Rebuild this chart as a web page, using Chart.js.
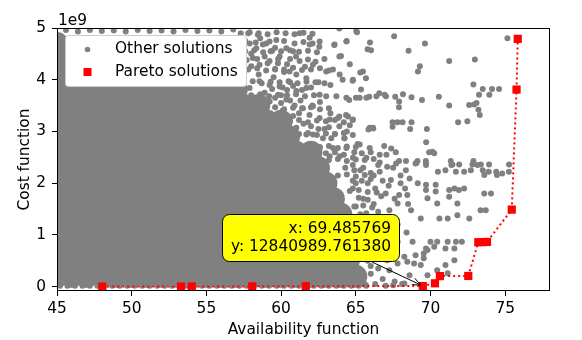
<!DOCTYPE html>
<html>
<head>
<meta charset="utf-8">
<script src="https://cdn.jsdelivr.net/npm/chart.js@4.4.1/dist/chart.umd.min.js"></script>
<style>
  html, body { margin: 0; padding: 0; background: #fff; }
</style>
</head>
<body>
<canvas id="chart" width="582" height="340"></canvas>
<script>
// tick values (y in units of 1e9)
const xTicks = [45, 50, 55, 60, 65, 70, 75];
const yTicks = [0, 1, 2, 3, 4, 5];

// Pareto front
const paretoX = [48.03, 53.30, 54.02, 58.07, 61.65, 69.485769, 70.30, 70.63, 72.53, 73.20, 73.50, 73.78, 75.44, 75.76, 75.84];
const paretoY = [2.1e6, 3.9e6, 4.6e6, 6.3e6, 9.8e6, 12840989.761380, 6.6e7, 2.05e8, 2.08e8, 8.6e8, 8.62e8, 8.65e8, 1.49e9, 3.81e9, 4.79e9];

// dense cloud of other solutions: rows (y, 1e9) with x positions
const coreY = [0.2, 0.5, 0.8, 1.1, 1.4, 1.7, 2.0, 2.3, 2.6, 2.9, 3.2, 3.5, 3.8, 4.1, 4.4, 4.7];
const coreX = [
  [45,46,47,48,49,50,51,52,53,54,55,56,57,58,59,60,61,62,63,64,65],
  [45.5,46.5,47.5,48.5,49.5,50.5,51.5,52.5,53.5,54.5,55.5,56.5,57.5,58.5,59.5,60.5,61.5,62.5,63.5,64.5],
  [45,46,47,48,49,50,51,52,53,54,55,56,57,58,59,60,61,62,63,64],
  [45.5,46.5,47.5,48.5,49.5,50.5,51.5,52.5,53.5,54.5,55.5,56.5,57.5,58.5,59.5,60.5,61.5,62.5,63.5],
  [45,46,47,48,49,50,51,52,53,54,55,56,57,58,59,60,61,62,63,64],
  [45.5,46.5,47.5,48.5,49.5,50.5,51.5,52.5,53.5,54.5,55.5,56.5,57.5,58.5,59.5,60.5,61.5,62.5,63.5],
  [45,46,47,48,49,50,51,52,53,54,55,56,57,58,59,60,61,62,63],
  [45.5,46.5,47.5,48.5,49.5,50.5,51.5,52.5,53.5,54.5,55.5,56.5,57.5,58.5,59.5,60.5,61.5,62.5],
  [45,46,47,48,49,50,51,52,53,54,55,56,57,58,59,60,61,62],
  [45.5,46.5,47.5,48.5,49.5,50.5,51.5,52.5,53.5,54.5,55.5,56.5,57.5,58.5,59.5,60.5],
  [45,46,47,48,49,50,51,52,53,54,55,56,57,58,59,60],
  [45.5,46.5,47.5,48.5,49.5,50.5,51.5,52.5,53.5,54.5,55.5,56.5,57.5,58.5],
  [45,46,47,48,49,50,51,52,53,54,55,56,57],
  [45],
  [45],
  [45]
];
// lowest solutions along the bottom of the cloud
const bottomX = [45.2,45.7,46.2,46.7,47.2,47.7,48.2,48.7,49.2,49.7,50.2,50.7,51.2,51.7,52.2,52.7,53.2,53.7,54.2,54.7,55.2,55.7,56.2,56.7,57.2,57.7,58.2,58.7,59.2,59.7,60.2,60.7,61.2,61.7,62.2,62.7,63.2,63.7,64.2,64.7,65.2,65.7];
const bottomY = 0.02;

// scattered solutions [x, y(1e9)]
const topRowPts = [[45.6,4.96],[46.4,4.93],[47.2,4.96],[48.0,4.94],[48.8,4.95],[49.6,4.93],[50.4,4.96],[51.2,4.94],[52.0,4.95],[52.8,4.93],[53.6,4.96],[54.4,4.94],[55.2,4.95],[56.0,4.93],[56.8,4.97]];
const edgePts = [[57.3,4.9],[57.9,4.92],[58.5,4.9],[59.1,4.88],[59.7,4.92],[60.3,4.9],[60.9,4.88],[61.5,4.91],[62.1,4.89],
  [57.6,4.55],[58.2,4.57],[58.8,4.53],[59.4,4.56],[60.0,4.55],[60.6,4.57],[61.2,4.54],[61.8,4.56],[62.4,4.53],
  [57.8,4.2],[58.4,4.22],[59.0,4.18],[59.6,4.21],[60.2,4.2],[60.8,4.23],[61.4,4.19],[62.0,4.2],[62.6,4.22],[63.2,4.18],
  [57.5,3.95],[58.1,3.97],[58.7,3.93],[59.3,3.96],[59.9,3.95],[60.5,3.97],[61.1,3.93],[61.7,3.96],[62.3,3.95],[62.9,3.93],
  [58.0,3.7],[58.6,3.72],[59.2,3.68],[59.8,3.71],[60.4,3.7],[61.0,3.72],[61.6,3.68],[62.2,3.7],
  [59.0,3.45],[59.6,3.47],[60.2,3.43],[60.8,3.46],[61.4,3.45],[62.0,3.47],[62.6,3.43],[63.2,3.45],
  [60.6,3.2],[61.2,3.22],[61.8,3.18],[62.4,3.21],[63.0,3.2],[63.6,3.22],[64.2,3.18],
  [61.2,2.95],[61.8,2.97],[62.4,2.93],[63.0,2.96],[63.6,2.95],[64.2,2.97],[64.8,2.93],
  [62.6,2.7],[63.2,2.72],[63.8,2.68],[64.4,2.71],[65.0,2.7],
  [63.2,2.45],[63.8,2.47],[64.4,2.43],[65.0,2.46],[65.6,2.45],[66.2,2.47],
  [63.8,2.15],[64.4,2.17],[65.0,2.13],[65.6,2.16],[66.2,2.15],
  [64.6,1.85],[65.2,1.87],[65.8,1.83],
  [64.9,1.55],[65.5,1.57],[66.1,1.53],
  [64.6,1.25],[65.2,1.27],[65.8,1.23],
  [57.6,4.75],[58.3,4.72],[59.0,4.7],[59.6,4.62],[60.2,4.75],[60.8,4.55],[61.5,4.73],
  [57.7,4.38],[58.4,4.4],[59.1,4.32],[59.8,4.4],[60.4,4.3],[61.0,4.45],[61.6,4.25],[62.3,4.35],
  [59.4,3.82],[60.1,3.85],[60.8,3.88],[61.4,3.8],[62.0,3.85],
  [60.0,3.55],[60.6,3.6],[61.2,3.35],[61.9,3.32],[62.6,3.57],[63.3,3.35],
  [62.5,3.05],[63.2,3.08],[63.9,3.1],[64.6,3.12],
  [63.0,2.58],[63.6,2.6],[64.2,2.55],[64.8,2.35],[65.4,2.58],[66.0,2.6],[66.6,2.4],
  [64.3,2.3],[64.9,2.25],[65.4,2.05],[66.0,2.08],[66.6,2.22],[64.8,2.05],
  [65.2,1.72],[65.8,1.68],[66.4,1.82],[65.7,1.42],[66.2,1.35],[65.5,0.95],[66.1,0.85],[65.4,0.65],[66.0,0.4]];
const upperCloudPts = [[58.45,4.87],[58.78,4.68],[59.23,4.74],[59.68,4.77],[58.34,4.61],[58.11,4.42],[58.0,4.26],[58.56,4.29],[59.23,4.36],[59.79,4.32],[60.35,4.61],[61.24,4.9],[61.91,4.81],[62.58,4.74],[63.58,4.68],[64.37,4.74],[61.91,4.68],[65.03,4.94],[61.24,4.36],[61.8,4.39],[62.13,4.29],[60.57,4.16],[61.02,4.1],[61.69,4.03],[63.02,4.16],[63.47,4.2],[63.92,4.1],[64.81,4.0],[65.48,4.16],[58.56,3.97],[59.23,3.9],[59.9,3.87],[57.89,3.84],[61.02,3.78],[61.69,3.84],[62.58,3.71],[63.02,3.68],[63.7,3.68],[64.37,3.65],[65.26,3.65],[65.71,3.65],[66.38,3.68],[66.93,3.71],[60.35,3.62],[59.23,3.58],[58.34,3.52],[61.46,3.45],[62.13,3.49],[62.58,3.26],[63.25,3.23],[63.81,3.26],[64.48,3.29],[64.81,3.23],[65.93,3.07],[66.15,3.07],[62.8,2.87],[63.36,2.87],[62.13,2.94],[64.25,2.87],[60.35,3.2],[61.02,3.07],[61.69,2.94],[61.02,2.78],[61.69,2.71],[62.58,2.68],[63.47,2.68],[64.37,2.68],[65.26,2.75],[65.93,2.68],[66.6,2.55],[67.05,2.55],[63.25,2.52],[63.92,2.52],[64.81,2.49],[65.71,2.49],[62.47,2.46],[61.69,2.46],[57.8,4.9],[58.6,4.8],[59.3,4.55],[59.9,4.45],[60.6,4.4],[60.9,4.7],[57.9,4.7],[58.5,4.1],[59.5,4.05],[60.2,4.15],[60.6,3.95],[61.3,3.6],[62.1,3.5],[62.5,3.95],[63.3,3.9],[62.9,4.4],[63.9,4.45],[64.6,4.3],[60.0,3.7],[59.3,3.35],[60.1,3.4],[60.8,3.3],[61.5,3.15],[62.0,3.1],[62.9,3.05],[63.6,2.95],[64.4,3.0],[64.9,2.6],[65.3,2.25],[65.0,2.0],[58.0,4.5],[58.9,4.45],[59.6,4.2],[60.4,3.8],[58.9,3.75],[59.6,3.65],[60.9,3.5],[58.6,3.35]];
const rightCloudPts = [[65.08,4.92],[64.39,4.75],[65.95,4.72],[65.79,4.59],[66.02,4.57],[64.01,4.46],[63.56,4.67],[62.11,4.70],[62.56,4.64],[63.9,4.99],[65.3,4.14],[65.68,4.03],[64.79,3.98],[64.12,4.0],[65.35,3.81],[66.57,3.74],[67.9,3.58],[65.9,3.67],[65.01,3.65],[64.56,3.61],[63.9,3.29],[64.35,3.32],[64.79,3.22],[65.85,3.04],[66.17,3.06],[64.23,2.87],[65.12,2.76],[66.9,2.72],[70.13,2.61],[69.06,2.39],[69.69,2.39],[71.47,2.36],[71.92,2.36],[72.81,2.36],[73.37,2.36],[73.92,2.36],[75.26,2.36],[67.57,4.84],[69.63,4.70],[68.53,4.56],[71.25,4.36],[72.97,4.39],[69.29,4.26],[69.16,4.16],[75.15,4.80],[72.87,3.91],[73.50,3.82],[74.12,3.82],[74.59,3.82],[73.25,3.71],[73.94,3.71],[67.02,3.68],[67.64,3.67],[68.16,3.72],[68.73,3.66],[69.43,3.61],[70.56,3.67],[67.89,3.47],[71.25,3.50],[72.59,3.51],[72.92,3.52],[73.08,3.55],[73.21,3.42],[73.3,3.32],[71.85,3.18],[72.47,3.20],[67.46,3.18],[67.79,3.18],[68.13,3.18],[67.46,3.09],[68.73,3.18],[68.64,3.05],[69.76,3.05],[69.71,2.79],[67.37,2.67],[67.68,2.60],[69.91,2.60],[70.25,2.58],[67.9,2.43],[68.36,2.43],[69.13,2.43],[69.69,2.43],[71.36,2.43],[72.87,2.43]];
const lowerRightPts = [[67.1,2.32],[67.7,2.38],[68.35,2.25],[69.0,2.38],[69.7,2.35],[70.5,2.22],[71.0,2.25],[71.4,2.35],[71.7,2.22],[72.25,2.22],[72.7,2.25],[73.15,2.35],[73.5,2.25],[73.9,2.22],[74.4,2.22],[74.8,2.19],[75.25,2.22],[73.6,2.16],[74.45,2.16],[67.35,2.06],[68.0,2.0],[68.6,2.09],[69.15,2.0],[69.7,1.97],[69.7,1.87],[70.35,1.84],[70.35,1.97],[71.25,1.87],[71.6,1.9],[71.9,1.87],[72.25,1.9],[73.6,1.8],[74.05,1.8],[67.0,1.8],[67.9,1.77],[68.45,1.77],[69.8,1.71],[70.45,1.61],[71.8,1.61],[71.25,1.74],[67.8,1.61],[68.7,1.48],[69.35,1.32],[70.6,1.32],[71.15,1.32],[71.8,1.38],[72.6,1.32],[73.35,1.48],[73.7,1.48],[67.25,1.48],[67.0,0.87],[67.8,0.87],[68.8,0.87],[69.7,0.74],[70.0,0.87],[70.45,0.87],[71.15,0.87],[71.7,0.87],[72.1,0.87],[69.55,0.64],[69.8,0.71],[70.25,0.77],[71.0,0.74],[71.6,0.74],[68.25,0.58],[69.0,0.61],[69.55,0.55],[68.45,0.48],[68.9,0.45],[69.35,0.42],[71.0,0.42],[71.6,0.51],[70.45,0.32],[69.8,0.22],[70.7,0.22],[71.15,0.26],[68.6,0.22],[68.25,0.06],[67.6,0.1],[67.25,0.32],[67.1,0.51],[67.8,0.45]];
const nearCorePts = [[65.5,2.3],[66,2.2],[66.5,2.35],[65.8,2.0],[66.3,1.9],[66.8,2.05],[65.5,1.7],[66.2,1.6],[66.7,1.75],[65.3,1.4],[65.9,1.3],[66.5,1.45],[65.2,1.1],[66.0,1.0],[66.6,1.15],[65.5,0.8],[66.3,0.7],[65.8,0.5],[66.5,0.35],[66.0,0.25],[66.8,0.15],[65.6,0.05],[66.3,0.05],[67.0,0.02],[67.5,0.03],[68.1,0.05],[64.8,1.9],[65.0,1.55],[67.5,2.3],[68.0,2.15],[67.2,1.95],[68.3,1.9],[67.6,1.7],[68.5,1.6],[67.0,1.3],[67.8,1.2],[68.4,1.05],[67.4,0.95]];

const GRAY = '#808080';
const FONT = 'DejaVu Sans';

const toPts = arr => arr.map(p => ({ x: p[0], y: p[1] * 1e9 }));

const corePts = [];
coreY.forEach((y, i) => coreX[i].forEach(x => corePts.push({ x: x, y: y * 1e9 })));
const bottomPts = bottomX.map(x => ({ x: x, y: bottomY * 1e9 }));
const otherPts = toPts(topRowPts.concat(edgePts, upperCloudPts, rightCloudPts, lowerRightPts, nearCorePts));
const paretoPts = paretoX.map((x, i) => ({ x: x, y: paretoY[i] }));

// frame, legend, annotation and axis titles
const extras = {
  id: 'extras',
  afterDatasetsDraw(chart) {
    const ctx = chart.ctx;
    const a = chart.chartArea;
    const xs = chart.scales.x, ys = chart.scales.y;
    ctx.save();
    // frame
    ctx.strokeStyle = '#000';
    ctx.lineWidth = 1;
    ctx.strokeRect(a.left + 0.5, a.top + 0.5, a.right - a.left - 1, a.bottom - a.top - 1);

    // legend
    ctx.fillStyle = '#fff';
    ctx.strokeStyle = '#cccccc';
    ctx.beginPath();
    ctx.roundRect(65.5, 35.5, 181, 51, 3);
    ctx.fill();
    ctx.stroke();
    ctx.fillStyle = GRAY;
    ctx.beginPath();
    ctx.arc(87.5, 49.5, 2.8, 0, Math.PI * 2);
    ctx.fill();
    ctx.fillStyle = '#ff0000';
    ctx.fillRect(83.5, 68, 8, 8);
    ctx.fillStyle = '#000';
    ctx.font = '15.4px ' + FONT;
    ctx.textBaseline = 'middle';
    ctx.textAlign = 'left';
    ctx.fillText('Other solutions', 115, 49);
    ctx.fillText('Pareto solutions', 115, 72);

    // annotation
    const tx = xs.getPixelForValue(paretoX[5]);
    const ty = ys.getPixelForValue(paretoY[5]);
    ctx.strokeStyle = '#000';
    ctx.lineWidth = 1;
    ctx.beginPath();
    ctx.moveTo(372, 262);
    ctx.lineTo(tx - 2, ty - 1);
    ctx.stroke();
    const ang = Math.atan2(ty - 1 - 262, tx - 2 - 372);
    ctx.beginPath();
    ctx.moveTo(tx - 2 - 9 * Math.cos(ang - 0.4), ty - 1 - 9 * Math.sin(ang - 0.4));
    ctx.lineTo(tx - 2, ty - 1);
    ctx.lineTo(tx - 2 - 9 * Math.cos(ang + 0.4), ty - 1 - 9 * Math.sin(ang + 0.4));
    ctx.stroke();
    ctx.fillStyle = '#ffff00';
    ctx.beginPath();
    ctx.roundRect(222.5, 214.5, 177, 47, 7);
    ctx.fill();
    ctx.stroke();
    ctx.fillStyle = '#000';
    ctx.textAlign = 'right';
    ctx.fillText('x: ' + paretoX[5].toFixed(6), 391, 229);
    ctx.fillText('y: ' + paretoY[5].toFixed(6), 391, 247);

    // axis titles and offset text
    ctx.textAlign = 'left';
    ctx.textBaseline = 'alphabetic';
    ctx.fillText('1e9', 58, 25);
    ctx.textAlign = 'center';
    ctx.fillText('Availability function', (a.left + a.right) / 2, 334);
    ctx.translate(29, (a.top + a.bottom) / 2);
    ctx.rotate(-Math.PI / 2);
    ctx.fillText('Cost function', 0, 0);
    ctx.restore();
  }
};

new Chart(document.getElementById('chart'), {
  type: 'scatter',
  data: {
    datasets: [
      {
        label: 'Pareto solutions',
        data: paretoPts,
        showLine: true,
        borderColor: '#ff0000',
        borderWidth: 2,
        borderDash: [2, 3],
        backgroundColor: '#ff0000',
        pointStyle: 'rect',
        pointRadius: 5.8,
        pointBorderWidth: 0,
        clip: 0,
        order: 0
      },
      {
        label: 'Other solutions',
        data: otherPts,
        backgroundColor: GRAY,
        pointRadius: 3,
        pointBorderWidth: 0,
        clip: 0,
        order: 1
      },
      {
        label: 'bottom',
        data: bottomPts,
        backgroundColor: GRAY,
        pointRadius: 3,
        pointBorderWidth: 0,
        clip: 0,
        order: 2
      },
      {
        label: 'core',
        data: corePts,
        backgroundColor: GRAY,
        pointRadius: 11.5,
        pointBorderWidth: 0,
        clip: 0,
        order: 3
      }
    ]
  },
  options: {
    responsive: false,
    animation: false,
    devicePixelRatio: 1,
    layout: { padding: { top: 28, right: 32, left: 0, bottom: 0 } },
    plugins: {
      legend: { display: false },
      tooltip: { enabled: false }
    },
    scales: {
      x: {
        type: 'linear',
        min: 45,
        max: 78,
        afterFit(s) { s.height = 49; },
        afterBuildTicks(s) { s.ticks = xTicks.map(v => ({ value: v })); },
        border: { display: false },
        grid: { drawOnChartArea: false, drawTicks: true, tickLength: 5, tickColor: '#000', tickWidth: 1 },
        ticks: { color: '#000', font: { family: FONT, size: 15.4 }, padding: 4, maxRotation: 0, autoSkip: false }
      },
      y: {
        type: 'linear',
        min: -0.083e9,
        max: 5e9,
        afterFit(s) { s.width = 57; },
        afterBuildTicks(s) { s.ticks = yTicks.map(v => ({ value: v * 1e9 })); },
        border: { display: false },
        grid: { drawOnChartArea: false, drawTicks: true, tickLength: 5, tickColor: '#000', tickWidth: 1 },
        ticks: {
          color: '#000',
          font: { family: FONT, size: 15.4 },
          padding: 6,
          callback: v => String(Math.round(v / 1e9))
        }
      }
    }
  },
  plugins: [extras]
});
</script>
</body>
</html>
